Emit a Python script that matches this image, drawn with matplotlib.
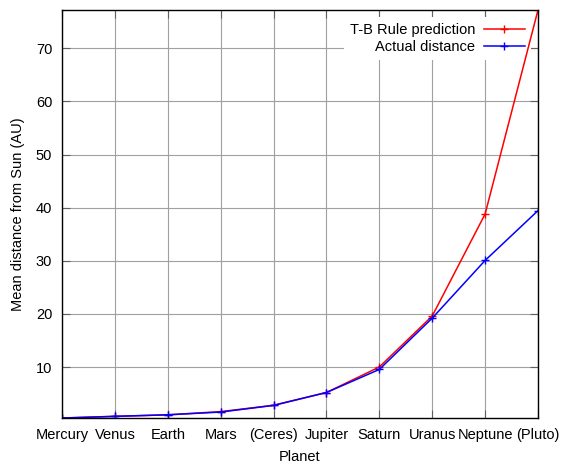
import matplotlib
matplotlib.use("Agg")
import matplotlib.pyplot as plt

planets = ["Mercury", "Venus", "Earth", "Mars", "(Ceres)", "Jupiter",
           "Saturn", "Uranus", "Neptune", "(Pluto)"]
tb_rule = [0.4, 0.7, 1.0, 1.6, 2.8, 5.2, 10.0, 19.6, 38.8, 77.2]
actual = [0.39, 0.72, 1.00, 1.52, 2.77, 5.20, 9.54, 19.2, 30.06, 39.44]
y_ticks = [10, 20, 30, 40, 50, 60, 70]

plt.rcParams["font.family"] = ["Liberation Sans", "DejaVu Sans"]
plt.rcParams["font.size"] = 10.5

fig = plt.figure(figsize=(5.61, 4.66), dpi=100)
ax = fig.add_axes([0.1105, 0.103, 0.8485, 0.8755])

x = list(range(len(planets)))
ax.plot(x, tb_rule, color="#ff0000", lw=1.1, marker="+", ms=6, mew=1,
        label="T-B Rule prediction", zorder=3)
ax.plot(x, actual, color="#0000ff", lw=1.1, marker="+", ms=6, mew=1,
        label="Actual distance", zorder=3)

ax.set_xlim(0, len(planets) - 1)
ax.set_ylim(0.4, 77.2)
ax.set_xticks(x)
ax.set_xticklabels(planets)
ax.set_yticks(y_ticks)

ax.grid(True, color="#a0a0a0", lw=0.8)
ax.set_axisbelow(True)
ax.tick_params(direction="in", top=True, right=True, length=6, width=0.8,
               colors="#606060", labelcolor="black")
ax.tick_params(axis="y", pad=7)
ax.tick_params(axis="x", pad=7)
for s in ax.spines.values():
    s.set_color("black")
    s.set_linewidth(1)
    s.set_zorder(4)

ax.set_xlabel("Planet", labelpad=6)
ax.set_ylabel("Mean distance from Sun (AU)", labelpad=8)

leg = ax.legend(loc="upper right", markerfirst=False, frameon=True,
                fancybox=False, edgecolor="none", facecolor="white",
                framealpha=1, handlelength=2.8, handletextpad=0.6,
                borderaxespad=0.5, labelspacing=0.2, fontsize=10.5)
leg.set_zorder(2)

fig.savefig("out.png", dpi=100)
